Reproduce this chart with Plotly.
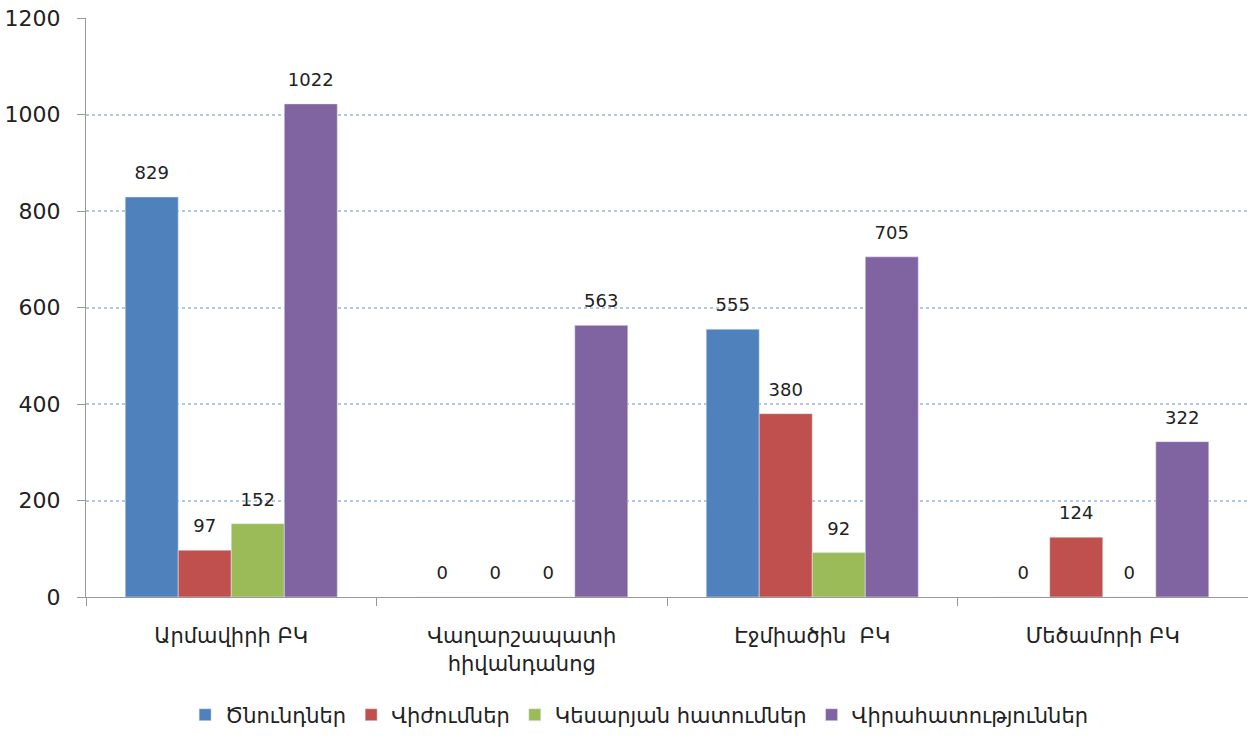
import plotly.graph_objects as go

categories = ["Արմավիրի ԲԿ", "Վաղարշապատի<br>հիվանդանոց", "Էջմիածին  ԲԿ", "Մեծամորի ԲԿ"]
series_names = ["Ծնունդներ", "Վիժումներ", "Կեսարյան հատումներ", "Վիրահատություններ"]
births = [829, 0, 555, 0]
abortions = [97, 0, 380, 124]
cesareans = [152, 0, 92, 0]
surgeries = [1022, 563, 705, 322]
colors = ["#4f81bd", "#c0504d", "#9bbb59", "#8064a2"]
y_ticks = [0, 200, 400, 600, 800, 1000, 1200]

FONT = "DejaVu Sans"
fig = go.Figure()
all_series = [births, abortions, cesareans, surgeries]
for i, (name, vals, col) in enumerate(zip(series_names, all_series, colors)):
    fig.add_trace(go.Bar(
        x=categories, y=vals, name=name, marker_color=col,
        offsetgroup=str(i),
    ))
for i, vals in enumerate(all_series):
    fig.add_trace(go.Scatter(
        x=categories, y=vals, mode="markers+text",
        text=[str(v) for v in vals], textposition="top center",
        textfont=dict(family=FONT, size=18, color="#222"),
        marker=dict(size=20, opacity=0), showlegend=False, hoverinfo="skip",
        offsetgroup=str(i), cliponaxis=False,
    ))

fig.update_layout(
    width=1248, height=738,
    barmode="group", bargap=0.27, bargroupgap=0,
    scattermode="group", scattergap=0.27,
    plot_bgcolor="white", paper_bgcolor="white",
    margin=dict(l=86, r=0, t=18, b=141),
    font=dict(family=FONT, size=18, color="#222"),
    legend=dict(orientation="h", x=0.476, xanchor="center", y=-0.1685, yanchor="top",
                font=dict(family=FONT, size=21), itemwidth=30, traceorder="normal"),
)
fig.update_xaxes(
    showline=True, linecolor="#999", linewidth=1,
    ticks="outside", tickson="boundaries", ticklen=8, tickcolor="#999",
    tickfont=dict(family=FONT, size=21), automargin=False, ticklabelstandoff=20,
)
fig.update_yaxes(
    range=[0, 1200], tickvals=y_ticks,
    showline=True, linecolor="#999", linewidth=1,
    ticks="outside", ticklen=8, tickcolor="#999",
    showgrid=True, gridcolor="#b4c6e7", griddash="dot", gridwidth=1.5,
    zeroline=False, automargin=False,
    tickfont=dict(family=FONT, size=22), ticklabelstandoff=12,
)
fig.write_html("out.html", config={"displayModeBar": False},
               post_script="document.body.style.margin='0';document.body.style.padding='0';")
